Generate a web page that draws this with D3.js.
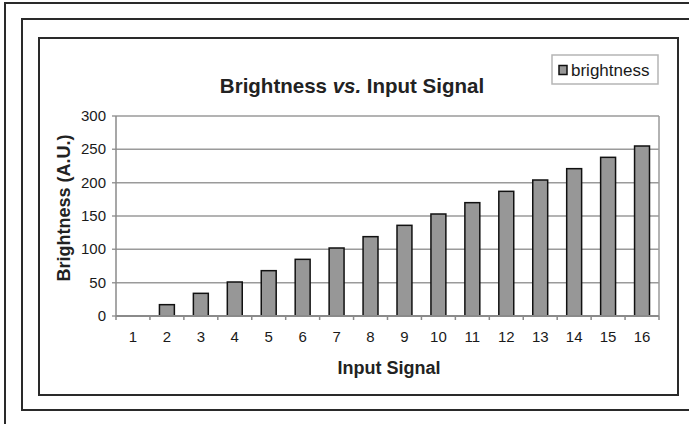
<!DOCTYPE html>
<html>
<head>
<meta charset="utf-8">
<script src="https://cdn.jsdelivr.net/npm/d3@7"></script>
<style>
  body { margin: 0; background: #fff; }
  svg { display: block; font-family: "Liberation Sans", Arial, sans-serif; }
</style>
</head>
<body>
<svg id="chart" width="689" height="424"></svg>
<script>
// data
var signals = [1, 2, 3, 4, 5, 6, 7, 8, 9, 10, 11, 12, 13, 14, 15, 16];
var brightness = [0, 17, 34, 51, 68, 85, 102, 119, 136, 153, 170, 187, 204, 221, 238, 255];
var yTicks = [0, 50, 100, 150, 200, 250, 300];
var seriesName = "brightness";

var svg = d3.select("#chart");

// frames around the figure
svg.append("path")
    .attr("d", "M5,430V3H700")
    .style("fill", "none").style("stroke", "#2a2a2a").style("stroke-width", 2);
svg.append("rect")
    .attr("x", 22).attr("y", 19).attr("width", 700).attr("height", 391)
    .style("fill", "none").style("stroke", "#2a2a2a").style("stroke-width", 2);
svg.append("rect")
    .attr("x", 39).attr("y", 38).attr("width", 639).attr("height", 357)
    .style("fill", "#fff").style("stroke", "#2a2a2a").style("stroke-width", 2);

var margin = {left: 116, right: 659, top: 116, bottom: 316};

var x = d3.scaleBand()
    .domain(signals)
    .range([margin.left, margin.right])
    .paddingInner(0.56)
    .paddingOuter(0.28);

var y = d3.scaleLinear()
    .domain([0, 300])
    .range([margin.bottom, margin.top]);

/** gridlines, with the left tick stubs */
svg.append("g")
  .selectAll("line")
  .data(yTicks)
  .enter().append("line")
    .attr("x1", margin.left - 4)
    .attr("x2", margin.right)
    .attr("y1", d => y(d))
    .attr("y2", d => y(d))
    .style("stroke", "#9a9a9a")
    .style("stroke-width", 1.5);

// right edge of the plot area
svg.append("line")
    .attr("x1", margin.right).attr("x2", margin.right)
    .attr("y1", margin.top).attr("y2", margin.bottom)
    .style("stroke", "#9a9a9a").style("stroke-width", 1.5);

// left axis line
svg.append("line")
    .attr("x1", margin.left).attr("x2", margin.left)
    .attr("y1", margin.top).attr("y2", margin.bottom)
    .style("stroke", "#8a8a8a").style("stroke-width", 1.5);

/** y tick labels */
svg.append("g")
  .selectAll("text")
  .data(yTicks)
  .enter().append("text")
    .attr("x", 106)
    .attr("y", d => y(d) + 5)
    .style("text-anchor", "end")
    .style("font-size", "15px")
    .style("fill", "#1a1a1a")
    .text(d => d);

/** bars */
svg.append("g")
  .selectAll("rect")
  .data(signals)
  .enter().append("rect")
    .attr("x", d => x(d))
    .attr("y", (d, i) => y(brightness[i]))
    .attr("width", x.bandwidth())
    .attr("height", (d, i) => y(0) - y(brightness[i]))
    .style("fill", "#979797")
    .style("stroke", "#111")
    .style("stroke-width", 1.5);

// bottom axis line and ticks between categories
svg.append("line")
    .attr("x1", margin.left).attr("x2", margin.right)
    .attr("y1", margin.bottom).attr("y2", margin.bottom)
    .style("stroke", "#8a8a8a").style("stroke-width", 1.8);

var step = x.step();
svg.append("g")
  .selectAll("line")
  .data(d3.range(signals.length + 1))
  .enter().append("line")
    .attr("x1", i => margin.left + (margin.right - margin.left) * i / signals.length)
    .attr("x2", i => margin.left + (margin.right - margin.left) * i / signals.length)
    .attr("y1", margin.bottom)
    .attr("y2", margin.bottom + 4)
    .style("stroke", "#8a8a8a")
    .style("stroke-width", 1.5);

/** x tick labels */
svg.append("g")
  .selectAll("text")
  .data(signals)
  .enter().append("text")
    .attr("x", d => x(d) + x.bandwidth() / 2)
    .attr("y", 342)
    .style("text-anchor", "middle")
    .style("font-size", "15px")
    .style("fill", "#1a1a1a")
    .text(d => d);

// titles
var title = svg.append("text")
    .attr("x", 352)
    .attr("y", 93)
    .style("text-anchor", "middle")
    .style("font-size", "20.5px")
    .style("font-weight", "bold")
    .style("fill", "#222");
title.append("tspan").text("Brightness ");
title.append("tspan").style("font-style", "italic").text("vs.");
title.append("tspan").text(" Input Signal");

svg.append("text")
    .attr("x", 389)
    .attr("y", 374)
    .style("text-anchor", "middle")
    .style("font-size", "18px")
    .style("font-weight", "bold")
    .style("fill", "#222")
    .text("Input Signal");

svg.append("text")
    .attr("transform", "translate(70,208) rotate(-90)")
    .style("text-anchor", "middle")
    .style("font-size", "18px")
    .style("font-weight", "bold")
    .style("fill", "#222")
    .text("Brightness (A.U.)");

/** legend */
var legend = svg.append("g");
legend.append("rect")
    .attr("x", 552).attr("y", 55).attr("width", 106).attr("height", 29)
    .style("fill", "#fff").style("stroke", "#b5b5b5").style("stroke-width", 1.5);
legend.append("rect")
    .attr("x", 559).attr("y", 65.5).attr("width", 8).attr("height", 9)
    .style("fill", "#979797").style("stroke", "#111").style("stroke-width", 1.5);
legend.append("text")
    .attr("x", 571).attr("y", 76)
    .style("font-size", "17px")
    .style("fill", "#1a1a1a")
    .text(seriesName);
</script>
</body>
</html>
